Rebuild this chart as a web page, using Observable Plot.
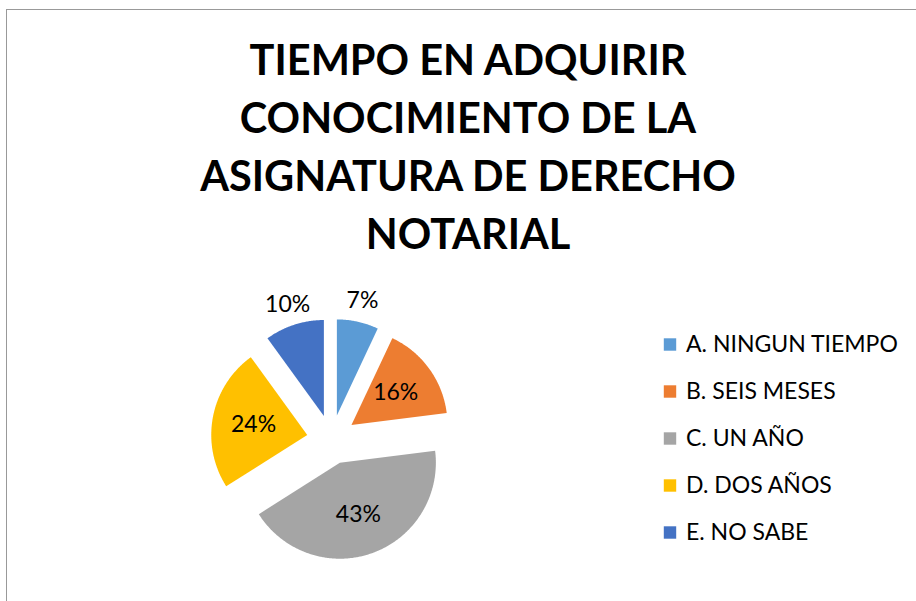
<!DOCTYPE html>
<html>
<head>
<meta charset="utf-8">
<script src="https://cdn.jsdelivr.net/npm/d3@7"></script>
<script src="https://cdn.jsdelivr.net/npm/@observablehq/plot@0.6"></script>
<style>
  html, body { margin: 0; padding: 0; background: #fff; }
  #wrap { position: relative; width: 916px; height: 601px; overflow: hidden; background: #fff; font-family: "Lato", "Open Sans", sans-serif; }
  #frame { position: absolute; left: 6px; top: 9px; width: 960px; height: 700px; border-left: 1px solid #999; border-top: 1px solid #999; }
  #title { position: absolute; left: 0; width: 936px; top: 30px; text-align: center; font-weight: bold; font-size: 41.5px; line-height: 58px; color: #000; }
  #pie { position: absolute; left: 181px; top: 289px; }
  #legend { position: absolute; left: 650px; top: 300px; }
</style>
</head>
<body>
<div id="wrap">
  <div id="frame"></div>
  <div id="title"></div>
  <div id="pie"></div>
  <div id="legend"></div>
</div>
<script>
const titleLines = ["TIEMPO EN ADQUIRIR", "CONOCIMIENTO DE LA", "ASIGNATURA DE DERECHO", "NOTARIAL"];
const categories = ["A. NINGUN TIEMPO", "B. SEIS MESES", "C. UN AÑO", "D. DOS AÑOS", "E. NO SABE"];
const values = [7, 16, 43, 24, 10];
const colors = ["#5B9BD5", "#ED7D31", "#A5A5A5", "#FFC000", "#4472C4"];

const title = document.getElementById("title");
titleLines.forEach(t => { const d = document.createElement("div"); d.textContent = t; title.appendChild(d); });

const total = d3.sum(values);
const arcs = d3.pie().sort(null).value(d => d.value)(categories.map((c, i) => ({key: c, value: values[i]})));
const explode = 0.257;

const points = [];
const labels = [];
arcs.forEach(a => {
  const mid = (a.startAngle + a.endAngle) / 2;
  const ox = explode * Math.sin(mid), oy = explode * Math.cos(mid);
  points.push({key: a.data.key, x: ox, y: oy});
  const n = Math.max(2, Math.ceil((a.endAngle - a.startAngle) / 0.01));
  for (let k = 0; k <= n; k++) {
    const t = a.startAngle + (a.endAngle - a.startAngle) * k / n;
    points.push({key: a.data.key, x: ox + Math.sin(t), y: oy + Math.cos(t)});
  }
  const share = a.data.value / total;
  const lr = share < 0.12 ? 1.22 : 0.57;
  labels.push({key: a.data.key, x: ox + lr * Math.sin(mid), y: oy + lr * Math.cos(mid), text: Math.round(share * 100) + "%"});
});

const R = 96, S = 300, half = S / 2 / R;
const pie = Plot.plot({
  width: S, height: S, margin: 0,
  x: {domain: [-half, half], axis: null},
  y: {domain: [-half, half], axis: null},
  color: {domain: categories, range: colors},
  style: {fontFamily: "Lato, 'Open Sans', sans-serif", fontSize: "23px", overflow: "visible", background: "transparent"},
  marks: [
    Plot.line(points, {x: "x", y: "y", z: "key", fill: "key", stroke: "none", curve: "linear-closed"}),
    Plot.text(labels, {x: "x", y: "y", text: "text", fill: "#000", fontSize: 23})
  ]
});
document.getElementById("pie").appendChild(pie);

const legend = Plot.plot({
  width: 266, height: 260, margin: 0,
  x: {domain: [0, 1], range: [19.5, 266], axis: null},
  y: {type: "point", domain: categories, range: [42, 233], padding: 0, axis: null},
  color: {domain: categories, range: colors},
  style: {fontFamily: "Lato, 'Open Sans', sans-serif", fontSize: "23px", overflow: "visible", background: "transparent"},
  marks: [
    Plot.dot(categories, {x: () => 0, y: d => d, fill: d => d, symbol: "square", r: 7, stroke: "none"}),
    Plot.text(categories, {x: () => 0, y: d => d, text: d => d, dx: 16, textAnchor: "start", fill: "#000", fontSize: 23})
  ]
});
document.getElementById("legend").appendChild(legend);
</script>
</body>
</html>
